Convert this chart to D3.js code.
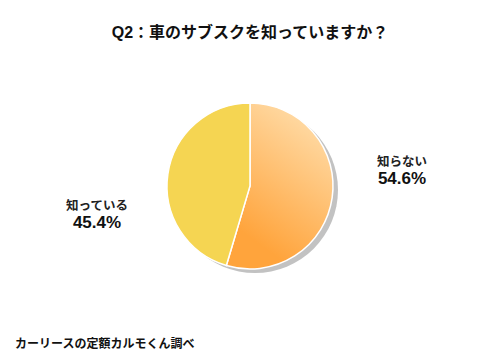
<!DOCTYPE html>
<html><head><meta charset="utf-8">
<script src="https://cdn.jsdelivr.net/npm/d3@7"></script>
<style>body{margin:0;background:#fff}svg{display:block}</style>
</head><body>
<svg id="c" width="500" height="360"></svg>
<script>
const title = "Q2：車のサブスクを知っていますか？";
const categories = ["知らない", "知っている"];
const values = [54.6, 45.4];
const source = "カーリースの定額カルモくん調べ";

const svg = d3.select("#c");
const W = 500, H = 360, cx = 250, cy = 186, r = 83;
const font = "'Liberation Sans', 'Noto Sans CJK JP', sans-serif";

const defs = svg.append("defs");
const g1 = defs.append("linearGradient").attr("id","gOrange")
  .attr("gradientUnits","userSpaceOnUse")
  .attr("x1", cx+70).attr("y1", cy-70).attr("x2", cx-10).attr("y2", cy+40);
g1.append("stop").attr("offset","0%").attr("stop-color","#ffdca8");
g1.append("stop").attr("offset","100%").attr("stop-color","#ffa43c");
const g2 = defs.append("linearGradient").attr("id","gYellow")
  .attr("gradientUnits","userSpaceOnUse")
  .attr("x1", cx-40).attr("y1", cy-60).attr("x2", cx-10).attr("y2", cy+80);
g2.append("stop").attr("offset","0%").attr("stop-color","#f5d552");
g2.append("stop").attr("offset","70%").attr("stop-color","#f6d654");
g2.append("stop").attr("offset","100%").attr("stop-color","#f8df6e");
const fills = ["url(#gOrange)", "url(#gYellow)"];

svg.append("text").attr("x", W/2).attr("y", 38).attr("text-anchor","middle")
  .attr("font-family", font).attr("font-weight","bold").attr("font-size", 16)
  .attr("fill","#111").text(title);

const pie = d3.pie().sort(null).value(d => d)(values);
const arc = d3.arc().innerRadius(0).outerRadius(r);

// shadow
svg.append("circle").attr("cx", cx+5).attr("cy", cy+4).attr("r", r)
  .attr("fill","#c2c2c2");

const gp = svg.append("g").attr("transform", `translate(${cx},${cy})`);
gp.selectAll("path").data(pie).join("path")
  .attr("d", arc).attr("fill", (d,i) => fills[i])
  .attr("stroke","#fff").attr("stroke-width", 1.5);

const labelPos = [[402, 166, 184], [97, 210, 228]];
pie.forEach((d,i) => {
  const [x, y1, y2] = labelPos[i];
  svg.append("text").attr("x", x).attr("y", y1).attr("text-anchor","middle")
    .attr("font-family", font).attr("font-weight","bold").attr("font-size", 12.5)
    .attr("fill","#222").text(categories[i]);
  svg.append("text").attr("x", x).attr("y", y2).attr("text-anchor","middle")
    .attr("font-family", font).attr("font-weight","bold").attr("font-size", 17)
    .attr("fill","#111").text(values[i].toFixed(1) + "%");
});

svg.append("text").attr("x", 15).attr("y", 348)
  .attr("font-family", font).attr("font-weight","bold").attr("font-size", 12)
  .attr("fill","#111").text(source);
</script>
</body></html>
